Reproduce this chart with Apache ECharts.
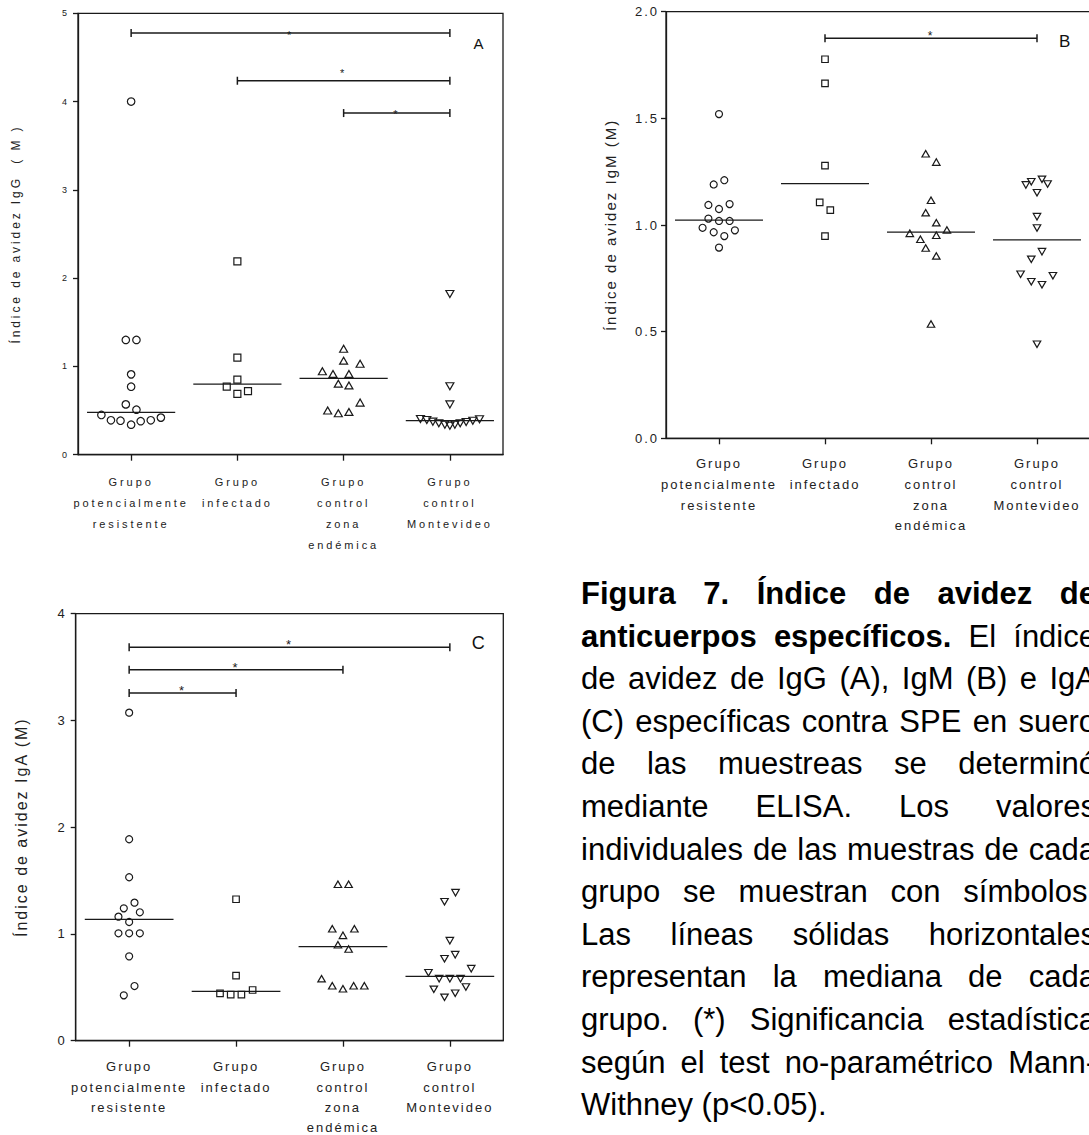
<!DOCTYPE html>
<html>
<head>
<meta charset="utf-8">
<script src="https://cdn.jsdelivr.net/npm/echarts@6/dist/echarts.min.js"></script>
<style>
html,body{margin:0;padding:0;background:#fff;}
#wrap{position:relative;width:1089px;height:1135px;overflow:hidden;background:#fff;}
.panel{position:absolute;}
#pA{left:0;top:0;width:540px;height:570px;letter-spacing:2.9px;}
#pB{left:540px;top:0;width:549px;height:570px;letter-spacing:2px;}
#pC{left:0;top:570px;width:540px;height:565px;letter-spacing:2px;}
#cap{position:absolute;left:581px;top:573px;width:515px;font-family:"Liberation Sans",Arial,Helvetica,sans-serif;font-size:31px;line-height:42.6px;color:#000;}
#cap .j{text-align:justify;text-align-last:justify;}
#cap .l{text-align:left;}
</style>
</head>
<body>
<div id="wrap">
  <div id="pA" class="panel"></div>
  <div id="pB" class="panel"></div>
  <div id="pC" class="panel"></div>
  <div id="cap">
    <div class="j"><b>Figura 7. Índice de avidez de</b></div>
    <div class="j"><b>anticuerpos específicos.</b> El índice</div>
    <div class="j">de avidez de IgG (A), IgM (B) e IgA</div>
    <div class="j">(C) específicas contra SPE en suero</div>
    <div class="j">de las muestreas se determinó</div>
    <div class="j">mediante ELISA. Los valores</div>
    <div class="j">individuales de las muestras de cada</div>
    <div class="j">grupo se muestran con símbolos.</div>
    <div class="j">Las líneas sólidas horizontales</div>
    <div class="j">representan la mediana de cada</div>
    <div class="j">grupo. (*) Significancia estadística</div>
    <div class="j">según el test no-paramétrico Mann-</div>
    <div class="l">Withney (p&lt;0.05).</div>
  </div>
</div>
<script>
// ---------- categories ----------
const categories = ['Grupo\npotencialmente\nresistente', 'Grupo\ninfectado', 'Grupo\ncontrol\nzona\nendémica', 'Grupo\ncontrol\nMontevideo'];

// ---------- Panel A : IgG ----------
const igG_resistente = [4.00, 1.30, 1.30, 0.91, 0.77, 0.57, 0.51, 0.45, 0.39, 0.385, 0.34, 0.38, 0.39, 0.42];
const igG_resistente_dx = [0, -0.05, 0.05, 0, 0, -0.05, 0.05, -0.28, -0.19, -0.1, 0, 0.09, 0.185, 0.28];
const igG_infectado = [2.19, 1.10, 0.85, 0.77, 0.69, 0.72];
const igG_infectado_dx = [0, 0, 0, -0.1, 0, 0.1];
const igG_zona = [1.20, 1.065, 1.03, 0.945, 0.915, 0.915, 0.805, 0.785, 0.59, 0.50, 0.47, 0.485];
const igG_zona_dx = [0, 0, 0.155, -0.2, -0.1, 0.05, -0.05, 0.05, 0.155, -0.15, -0.05, 0.05];
const igG_montevideo = [1.82, 0.775, 0.57, 0.404, 0.393, 0.374, 0.356, 0.340, 0.328, 0.340, 0.356, 0.370, 0.385, 0.401];
const igG_montevideo_dx = [0, 0, 0, -0.277, -0.217, -0.16, -0.104, -0.047, 0, 0.047, 0.097, 0.153, 0.216, 0.279];
const igG_medians = [0.48, 0.80, 0.865, 0.385];
// [from group, to group, bracket y, asterisk y]
const igG_brackets = [[0, 3, 4.776, 4.787], [1, 3, 4.236, 4.349], [2, 3, 3.87, 3.885]];
const igG_ticks = ['0', '1', '2', '3', '4', '5'];

// ---------- Panel B : IgM ----------
const igM_resistente = [1.52, 1.19, 1.21, 1.094, 1.075, 1.098, 1.03, 1.019, 1.019, 0.987, 0.966, 0.948, 0.975, 0.894];
const igM_resistente_dx = [0, -0.05, 0.05, -0.1, 0, 0.1, -0.1, 0, 0.1, -0.155, -0.05, 0.05, 0.15, 0];
const igM_infectado = [1.777, 1.664, 1.278, 1.106, 1.07, 0.948];
const igM_infectado_dx = [0, 0, 0, -0.05, 0.05, 0];
const igM_zona = [1.334, 1.295, 1.116, 1.058, 1.011, 0.977, 0.961, 0.952, 0.933, 0.892, 0.855, 0.536];
const igM_zona_dx = [-0.05, 0.05, 0, -0.05, 0.05, 0.15, -0.2, 0.05, -0.1, -0.05, 0.05, 0];
const igM_montevideo = [1.188, 1.203, 1.214, 1.192, 1.151, 1.039, 0.986, 0.839, 0.875, 0.769, 0.734, 0.720, 0.762, 0.441];
const igM_montevideo_dx = [-0.105, -0.054, 0.047, 0.1, 0, 0, 0, -0.054, 0.047, -0.155, -0.054, 0.047, 0.15, 0];
const igM_medians = [1.023, 1.194, 0.967, 0.930];
const igM_brackets = [[1, 3, 1.875, 1.899]];
const igM_ticks = ['0.0', '0.5', '1.0', '1.5', '2.0'];

// ---------- Panel C : IgA ----------
const igA_resistente = [3.073, 1.887, 1.531, 1.293, 1.240, 1.203, 1.162, 1.112, 1.006, 1.006, 1.006, 0.790, 0.512, 0.425];
const igA_resistente_dx = [0, 0, 0, 0.05, -0.05, 0.1, -0.1, 0, -0.1, 0, 0.1, 0, 0.05, -0.05];
const igA_infectado = [1.325, 0.609, 0.475, 0.444, 0.431, 0.431];
const igA_infectado_dx = [0, 0, 0.155, -0.15, -0.05, 0.05];
const igA_zona = [1.465, 1.465, 1.049, 1.049, 0.987, 0.899, 0.859, 0.581, 0.515, 0.487, 0.515, 0.515];
const igA_zona_dx = [-0.047, 0.053, -0.1, 0.107, 0, -0.047, 0.053, -0.2, -0.1, 0, 0.1, 0.2];
const igA_montevideo = [1.387, 1.302, 0.937, 0.806, 0.768, 0.675, 0.637, 0.581, 0.581, 0.581, 0.503, 0.481, 0.444, 0.406];
const igA_montevideo_dx = [0.053, -0.05, 0, 0.05, -0.05, 0.2, -0.2, -0.1, 0, 0.1, 0.15, -0.15, 0.05, -0.05];
const igA_medians = [1.137, 0.462, 0.881, 0.603];
const igA_brackets = [[0, 3, 3.686, 3.735], [0, 2, 3.474, 3.522], [0, 1, 3.256, 3.311]];
const igA_ticks = ['0', '1', '2', '3', '4'];

// ---------- styling ----------
const FONT = '"Liberation Sans", Arial, Helvetica, sans-serif';
const INK = '#1a1a1a';
const TXT = '#222';

function buildOption(p) {
  const symbols = [
    { symbol: 'circle', size: p.sym, rotate: 0 },
    { symbol: 'rect', size: p.sym - 0.5, rotate: 0 },
    { symbol: 'triangle', size: [p.sym + 0.5, p.sym - 0.5], rotate: 0 },
    { symbol: 'triangle', size: [p.sym + 0.5, p.sym - 0.5], rotate: 180 }
  ];
  const scatter = p.values.map((vals, g) => ({
    type: 'scatter', xAxisIndex: 1, yAxisIndex: 0, silent: true, z: 3,
    symbol: symbols[g].symbol, symbolSize: symbols[g].size, symbolRotate: symbols[g].rotate,
    itemStyle: { color: 'rgba(255,255,255,0)', borderColor: INK, borderWidth: 1.2, opacity: 1 },
    data: vals.map((v, k) => [g + p.offsets[g][k], v])
  }));
  const medianSeries = {
    type: 'custom', xAxisIndex: 1, yAxisIndex: 0, silent: true, z: 2,
    encode: { x: 0, y: 1 },
    data: p.medians.map((m, g) => [g, m]),
    renderItem: function (params, api) {
      const a = api.coord([api.value(0) - 0.415, api.value(1)]);
      const b = api.coord([api.value(0) + 0.415, api.value(1)]);
      return { type: 'line', shape: { x1: a[0], y1: a[1], x2: b[0], y2: b[1] }, style: { stroke: INK, lineWidth: 1.3 } };
    }
  };
  const bracketSeries = {
    type: 'custom', xAxisIndex: 1, yAxisIndex: 0, silent: true, z: 2,
    encode: { x: [0, 1], y: [2, 3] },
    data: p.brackets,
    renderItem: function (params, api) {
      const x1 = api.value(0), x2 = api.value(1), y = api.value(2), ys = api.value(3);
      const a = api.coord([x1, y]);
      const b = api.coord([x2, y]);
      const s = api.coord([(x1 + x2) / 2, ys]);
      const st = { stroke: INK, lineWidth: 1.5 };
      return {
        type: 'group', children: [
          { type: 'line', shape: { x1: a[0], y1: a[1], x2: b[0], y2: b[1] }, style: st },
          { type: 'line', shape: { x1: a[0], y1: a[1] - 4, x2: a[0], y2: a[1] + 4 }, style: st },
          { type: 'line', shape: { x1: b[0], y1: b[1] - 4, x2: b[0], y2: b[1] + 4 }, style: st },
          { type: 'text', x: s[0], y: s[1] + p.starFont * 0.22,
            style: { text: '*', fill: INK, font: p.starFont + 'px ' + FONT, textAlign: 'center', textVerticalAlign: 'middle' } }
        ]
      };
    }
  };
  return {
    animation: false,
    backgroundColor: 'transparent',
    textStyle: { fontFamily: FONT },
    grid: {
      left: p.grid[0], top: p.grid[1], width: p.grid[2], height: p.grid[3],
      show: true, borderColor: INK, borderWidth: 1.3, backgroundColor: 'transparent',
      containLabel: false, outerBoundsMode: 'none'
    },
    xAxis: [
      {
        type: 'category', data: categories, boundaryGap: true, position: 'bottom',
        axisLine: { show: true, onZero: false, lineStyle: { color: INK, width: 1.3 } },
        axisTick: { show: true, alignWithLabel: true, length: 6, lineStyle: { color: INK, width: 1.3 } },
        axisLabel: { interval: 0, fontSize: p.labelFont, lineHeight: p.labelLH, margin: p.labelMargin, color: TXT, fontFamily: FONT },
        splitLine: { show: false }
      },
      { type: 'value', min: -0.5, max: 3.5, show: false, gridIndex: 0, axisLine: { onZero: false } }
    ],
    yAxis: {
      type: 'value', min: 0, max: p.ymax, interval: p.yint, position: 'left',
      axisLine: { show: true, onZero: false, lineStyle: { color: INK, width: 1.3 } },
      axisTick: { show: true, length: 5, lineStyle: { color: INK, width: 1.3 } },
      axisLabel: { fontSize: p.tickFont, margin: p.tickMargin, color: TXT, fontFamily: FONT,
        formatter: function (v, i) { return p.ticks[i]; } },
      splitLine: { show: false },
      name: p.yname, nameLocation: 'middle', nameGap: p.nameGap,
      nameTextStyle: { fontSize: p.nameFont, color: TXT, fontFamily: FONT }
    },
    graphic: [{
      type: 'text', x: p.letter[0], y: p.letter[1],
      style: { text: p.letter[2], fill: '#111', font: p.letterFont + 'px ' + FONT, textAlign: 'center', textVerticalAlign: 'middle' }
    }],
    series: scatter.concat([medianSeries, bracketSeries])
  };
}

const panels = [
  {
    el: 'pA', grid: [78, 13.3, 425, 441.4], ymax: 5, yint: 1, ticks: igG_ticks,
    values: [igG_resistente, igG_infectado, igG_zona, igG_montevideo],
    offsets: [igG_resistente_dx, igG_infectado_dx, igG_zona_dx, igG_montevideo_dx],
    medians: igG_medians, brackets: igG_brackets,
    yname: 'Índice de avidez IgG  ( M )', nameGap: 56, nameFont: 12,
    labelFont: 11, labelLH: 21, labelMargin: 17, tickFont: 9, tickMargin: 8,
    sym: 7.5, starFont: 11, letter: [480, 43.3, 'A'], letterFont: 15
  },
  {
    el: 'pB', grid: [126, 11.7, 424, 426.6], ymax: 2, yint: 0.5, ticks: igM_ticks,
    values: [igM_resistente, igM_infectado, igM_zona, igM_montevideo],
    offsets: [igM_resistente_dx, igM_infectado_dx, igM_zona_dx, igM_montevideo_dx],
    medians: igM_medians, brackets: igM_brackets,
    yname: 'Índice de avidez IgM (M)', nameGap: 48, nameFont: 15,
    labelFont: 13, labelLH: 20.7, labelMargin: 15, tickFont: 13, tickMargin: 7,
    sym: 7, starFont: 12, letter: [525.7, 41.7, 'B'], letterFont: 17
  },
  {
    el: 'pC', grid: [75.7, 43.7, 427.6, 427], ymax: 4, yint: 1, ticks: igA_ticks,
    values: [igA_resistente, igA_infectado, igA_zona, igA_montevideo],
    offsets: [igA_resistente_dx, igA_infectado_dx, igA_zona_dx, igA_montevideo_dx],
    medians: igA_medians, brackets: igA_brackets,
    yname: 'Índice de avidez IgA (M)', nameGap: 46, nameFont: 16,
    labelFont: 13, labelLH: 20.3, labelMargin: 16, tickFont: 13, tickMargin: 9,
    sym: 7, starFont: 13, letter: [479.3, 73.3, 'C'], letterFont: 18
  }
];

panels.forEach(function (p) {
  const chart = echarts.init(document.getElementById(p.el), null, { renderer: 'svg' });
  chart.setOption(buildOption(p));
});
</script>
</body>
</html>
